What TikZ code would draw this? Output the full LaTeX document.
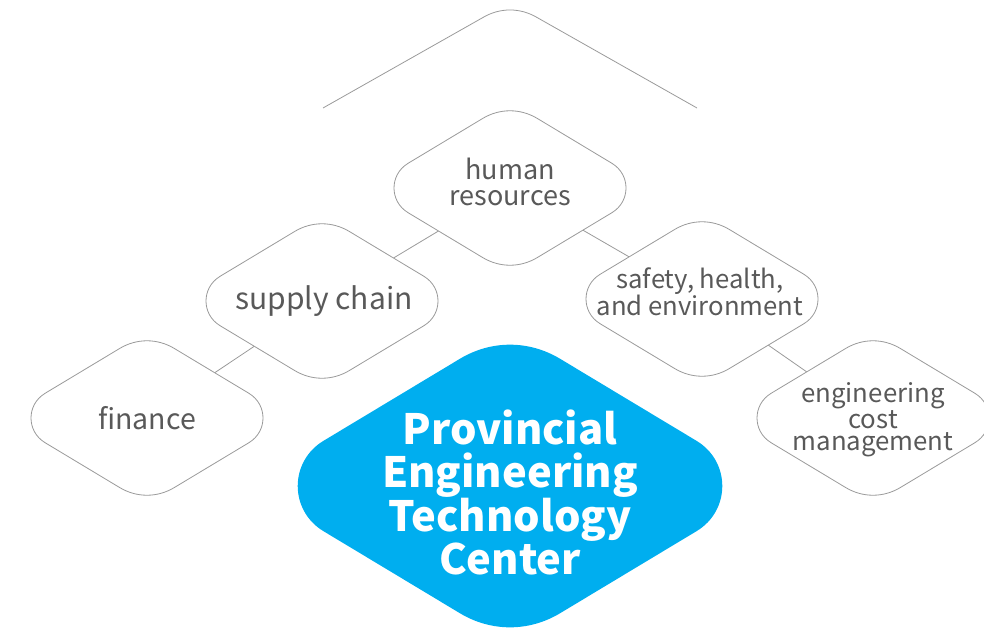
\documentclass[tikz,border=0pt]{standalone}
\usepackage{fontspec}
\newfontfamily\lblfont{Noto Sans CJK SC}
\definecolor{edgegray}{HTML}{9A9A9A}
\definecolor{txtgray}{HTML}{595959}
\definecolor{ctrblue}{HTML}{00AEEF}
\tikzset{
  rdia/.pic={
    \path[pic actions] (-27.4,-69.5) .. controls (-10.3,-79.8) and (10.3,-79.8) .. (27.4,-69.5)
      -- (101.9,-24.7) .. controls (120.7,-13.4) and (120.7,13.4) .. (101.9,24.7)
      -- (27.4,69.5) .. controls (10.3,79.8) and (-10.3,79.8) .. (-27.4,69.5)
      -- (-101.9,24.7) .. controls (-120.7,13.4) and (-120.7,-13.4) .. (-101.9,-24.7) -- cycle;
  },
  outline/.style={draw=edgegray, line width=0.8pt, fill=white},
  conn/.style={draw=edgegray, line width=0.8pt},
  lbl/.style={inner sep=0pt, align=center, text=txtgray},
  ctr/.style={inner sep=0pt, align=center, text=white}
}
\begin{document}
\begin{tikzpicture}[x=1pt,y=-1pt]
\useasboundingbox (0,0) rectangle (984,629);
\clip (0,0) rectangle (984,629);
% centres
\coordinate (hr) at (510,188);
\coordinate (sc) at (322,301);
\coordinate (fin) at (147,418);
\coordinate (she) at (702,299);
\coordinate (ecm) at (873,418);
\coordinate (pet) at (510,486);
\coordinate (topL) at (323,108);
\coordinate (topR) at (697,108);
% connectors
\draw[conn] (hr) -- (sc);
\draw[conn] (sc) -- (fin);
\draw[conn] (hr) -- (she);
\draw[conn] (she) -- (ecm);
% top partial shape
\draw[conn] (topL) -- (482.6,17.7) .. controls (499.7,7.4) and (520.3,7.4) .. (537.4,17.7) -- (topR);
% shapes
\pic[outline] at (hr) {rdia};
\pic[outline] at (sc) {rdia};
\pic[outline] at (fin) {rdia};
\pic[outline] at (she) {rdia};
\pic[outline] at (ecm) {rdia};
\pic[fill=ctrblue, scale=1.83] at (pet) {rdia};
% texts
\node[lbl, font=\lblfont\fontsize{27}{25.7}\selectfont] (hrt) at (510,182) {human\\resources};
\node[lbl, font=\lblfont\fontsize{30}{28}\selectfont] (sct) at (324,301) {supply chain};
\node[lbl, font=\lblfont\fontsize{28.5}{28}\selectfont] (fint) at (147,418.5) {finance};
\node[lbl, font=\lblfont\fontsize{25.7}{26.5}\selectfont] (shet) at (700,291.8) {safety, health,\\and environment};
\node[lbl, font=\lblfont\fontsize{25.8}{22.5}\selectfont] (ecmt) at (873,420) {engineering\\cost\\management};
\node[ctr, font=\lblfont\bfseries\fontsize{41.7}{43}\selectfont] (pett) at (510,492.5) {Provincial\\Engineering\\Technology\\Center};
\end{tikzpicture}
\end{document}
